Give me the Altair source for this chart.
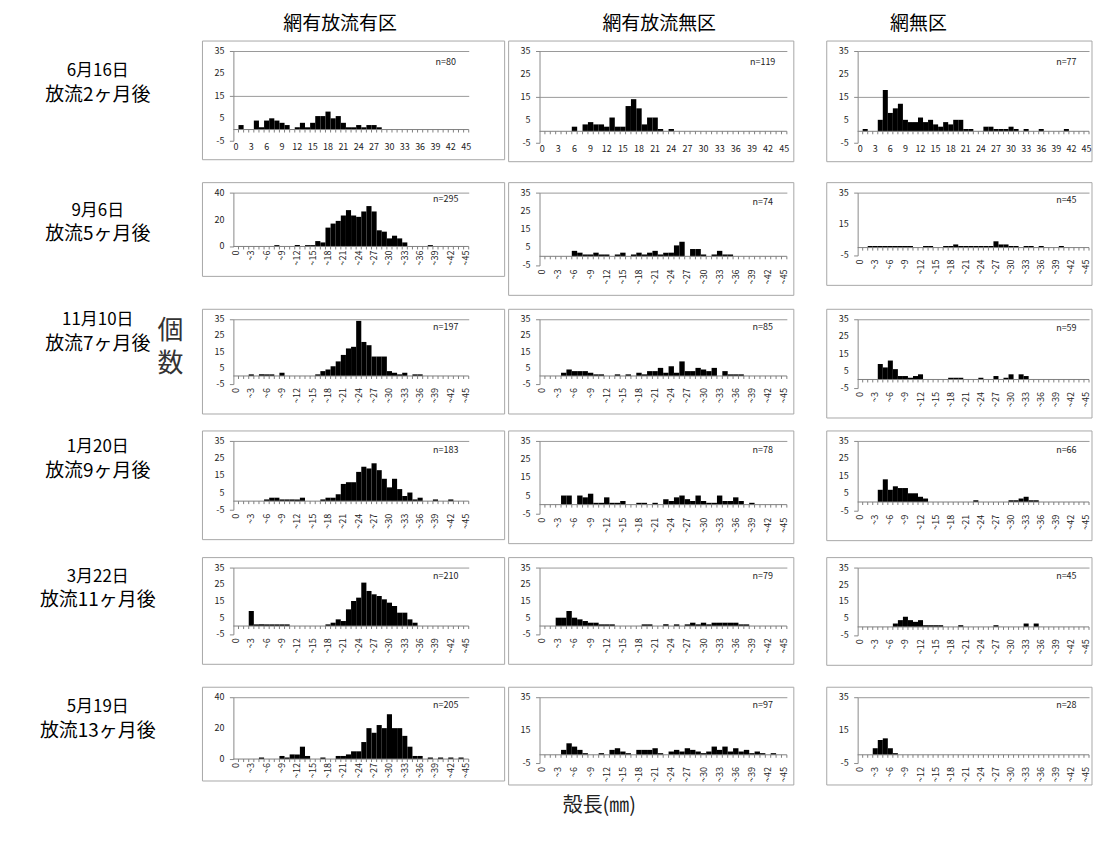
import altair as alt
import pandas as pd

FONT = "Noto Sans CJK JP"

# ---------------- data ----------------
categories = list(range(46))            # shell length classes 0..45 mm
tick_values = list(range(0, 46, 3))     # labelled classes

col_titles = ["網有放流有区", "網有放流無区", "網無区"]
row_dates = ["6月16日", "9月6日", "11月10日", "1月20日", "3月22日", "5月19日"]
row_after = ["放流2ヶ月後", "放流5ヶ月後", "放流7ヶ月後", "放流9ヶ月後", "放流11ヶ月後", "放流13ヶ月後"]
n_texts = [["n=80", "n=119", "n=77"],
           ["n=295", "n=74", "n=45"],
           ["n=197", "n=85", "n=59"],
           ["n=183", "n=78", "n=66"],
           ["n=210", "n=79", "n=45"],
           ["n=205", "n=97", "n=28"]]
y_title = ["個", "数"]
x_title = "殻長(㎜)"

# counts per size class {class: count}
r1c1 = {1: 2, 4: 4, 5: 1, 6: 4, 7: 5, 8: 4, 9: 3, 10: 2, 12: 1, 13: 3, 14: 1, 15: 3, 16: 6, 17: 6,
        18: 8, 19: 5, 20: 6, 21: 3, 22: 1, 23: 1, 24: 2, 25: 1, 26: 2, 27: 2, 28: 1}
r1c2 = {6: 2, 8: 3, 9: 4, 10: 3, 11: 3, 12: 2, 13: 6, 14: 2, 15: 2, 16: 11, 17: 14, 18: 10, 19: 3,
        20: 6, 21: 6, 22: 1, 24: 1}
r1c3 = {1: 1, 4: 5, 5: 18, 6: 8, 7: 10, 8: 12, 9: 5, 10: 4, 11: 4, 12: 6, 13: 4, 14: 5, 15: 3, 16: 2,
        17: 4, 18: 3, 19: 5, 20: 5, 21: 1, 22: 1, 25: 2, 26: 2, 27: 1, 28: 1, 29: 1, 30: 2, 31: 1,
        33: 1, 36: 1, 41: 1}

r2c1 = {8: 1, 12: 1, 14: 1, 15: 1, 16: 4, 17: 3, 18: 14, 19: 17, 20: 19, 21: 23, 22: 27, 23: 23,
        24: 22, 25: 26, 26: 30, 27: 26, 28: 12, 29: 11, 30: 6, 31: 8, 32: 6, 33: 3, 38: 1}
r2c2 = {6: 3, 7: 2, 8: 1, 9: 1, 10: 2, 11: 1, 12: 1, 14: 1, 15: 2, 17: 1, 18: 2, 19: 1, 20: 2,
        21: 3, 22: 1, 23: 2, 24: 2, 25: 6, 26: 8, 28: 4, 29: 4, 30: 1, 32: 1, 33: 3, 34: 1, 35: 1}
r2c3 = {2: 1, 3: 1, 4: 1, 5: 1, 6: 1, 7: 1, 8: 1, 9: 1, 10: 1, 13: 1, 14: 1, 17: 1, 18: 1, 19: 2,
        20: 1, 21: 1, 22: 1, 23: 1, 24: 1, 25: 1, 26: 1, 27: 4, 28: 2, 29: 2, 30: 1, 31: 1, 33: 1,
        34: 1, 36: 1, 40: 1}

r3c1 = {3: 1, 5: 1, 6: 1, 7: 1, 9: 2, 16: 1, 17: 3, 18: 4, 19: 6, 20: 9, 21: 13, 22: 17, 23: 18,
        24: 34, 25: 21, 26: 19, 27: 12, 28: 12, 29: 12, 30: 3, 31: 2, 32: 1, 33: 2, 35: 1, 36: 1}
r3c2 = {4: 2, 5: 4, 6: 3, 7: 3, 8: 3, 9: 2, 10: 1, 11: 1, 14: 1, 16: 1, 18: 2, 19: 1, 20: 3, 21: 3,
        22: 5, 23: 2, 24: 6, 25: 2, 26: 9, 27: 3, 28: 3, 29: 5, 30: 4, 31: 3, 32: 5, 34: 3, 35: 1,
        36: 1, 37: 1}
r3c3 = {4: 9, 5: 7, 6: 11, 7: 6, 8: 2, 9: 2, 10: 1, 11: 2, 12: 3, 18: 1, 19: 1, 20: 1, 24: 1,
        27: 2, 29: 1, 30: 3, 32: 3, 33: 2}

r4c1 = {6: 1, 7: 2, 8: 2, 9: 1, 10: 1, 11: 1, 12: 1, 13: 2, 17: 1, 18: 2, 19: 2, 20: 4, 21: 10,
        22: 11, 23: 11, 24: 17, 25: 20, 26: 19, 27: 22, 28: 18, 29: 13, 30: 8, 31: 13, 32: 7,
        33: 3, 34: 5, 35: 1, 36: 2, 39: 1, 42: 1}
r4c2 = {4: 5, 5: 5, 7: 5, 8: 4, 9: 6, 10: 1, 11: 1, 12: 4, 13: 1, 14: 1, 15: 2, 18: 1, 19: 1,
        21: 1, 23: 3, 24: 2, 25: 4, 26: 5, 27: 3, 28: 2, 29: 5, 30: 2, 31: 1, 32: 1, 33: 5, 34: 2,
        35: 2, 36: 4, 37: 2, 39: 1}
r4c3 = {4: 7, 5: 13, 6: 7, 7: 9, 8: 8, 9: 8, 10: 5, 11: 5, 12: 3, 13: 2, 23: 1, 30: 1, 31: 1,
        32: 2, 33: 3, 34: 1, 35: 1}

r5c1 = {3: 9, 4: 1, 5: 1, 6: 1, 7: 1, 8: 1, 9: 1, 10: 1, 18: 1, 19: 2, 20: 4, 21: 3, 22: 10,
        23: 15, 24: 17, 25: 26, 26: 21, 27: 19, 28: 18, 29: 16, 30: 14, 31: 12, 32: 8, 33: 8,
        34: 4, 35: 2}
r5c2 = {3: 5, 4: 5, 5: 9, 6: 5, 7: 4, 8: 3, 9: 2, 10: 2, 11: 1, 12: 1, 13: 1, 19: 1, 20: 1,
        23: 1, 25: 1, 27: 1, 28: 2, 29: 1, 30: 2, 31: 1, 32: 2, 33: 2, 34: 2, 35: 2, 36: 2, 37: 1,
        38: 1}
r5c3 = {7: 2, 8: 4, 9: 6, 10: 4, 11: 3, 12: 4, 13: 1, 14: 1, 15: 1, 16: 1, 20: 1, 27: 1, 33: 2,
        35: 2}

r6c1 = {5: 1, 9: 2, 10: 1, 11: 3, 12: 3, 13: 8, 14: 2, 17: 1, 20: 2, 21: 2, 22: 3, 23: 5, 24: 5,
        25: 11, 26: 20, 27: 17, 28: 22, 29: 20, 30: 29, 31: 20, 32: 20, 33: 15, 34: 8, 35: 2,
        36: 2, 38: 1, 40: 1, 42: 1, 44: 1}
r6c2 = {4: 3, 5: 7, 6: 5, 7: 3, 8: 1, 11: 1, 13: 3, 14: 4, 15: 2, 16: 1, 18: 3, 19: 3, 20: 3,
        21: 4, 22: 1, 24: 2, 25: 3, 26: 2, 27: 4, 28: 3, 29: 2, 30: 1, 31: 2, 32: 5, 33: 3, 34: 5,
        35: 2, 36: 4, 37: 2, 38: 3, 39: 1, 40: 2, 41: 1, 43: 1}
r6c3 = {3: 4, 4: 9, 5: 10, 6: 4, 7: 1}

counts = [[r1c1, r1c2, r1c3], [r2c1, r2c2, r2c3], [r3c1, r3c2, r3c3],
          [r4c1, r4c2, r4c3], [r5c1, r5c2, r5c3], [r6c1, r6c2, r6c3]]

# ---------------- layout ----------------
LABEL_W = 154
col_w = [236, 248, 232]
box_right = [36, 7, 3]
row_h = [[90, 92, 92], [54, 73, 63], [65, 65, 69], [69, 73, 70], [67, 67, 68], [62, 66, 66]]
row_mode = [["a", "a", "a"], ["b", "a", "c"], ["a", "a", "a"],
            ["a", "a", "a"], ["a", "a", "a"], ["b", "c", "c"]]
row_pitch = [142, 127, 122, 127, 130, 93]
label_dy = [(20, 44), (18, 42), (1, 25), (6, 30), (9, 33), (10, 34)]
title_x = [107, 120, 61]

one = pd.DataFrame({"z": [0]})
tick_df = pd.DataFrame({"t": tick_values})


def panel(cnt, ntext, W, H, mode, rotated, bx1, box_bottom):
    table = pd.DataFrame({"k": categories, "v": [cnt.get(c, 0) for c in categories]})
    if mode == "a":
        dom, yv, ny = [-5, 35], [-5, 5, 15, 25, 35], 30
    elif mode == "b":
        dom, yv, ny = [0, 40], [0, 20, 40], 35
    else:
        dom, yv, ny = [-5, 35], [-5, 15, 35], 30
    xs = alt.Scale(domain=[-0.5, 45.5], nice=False, zero=False)
    ys = alt.Scale(domain=dom, nice=False, zero=False)
    xaxis = alt.Axis(values=tick_values, domain=False, ticks=False, grid=False, labels=False,
                     title=None)
    yaxis = alt.Axis(values=yv, title=None, grid=True, gridColor="#9a9a9a", gridWidth=1,
                     gridOpacity={"condition": {"test": f"datum.value == {dom[0]}", "value": 0},
                                  "value": 1},
                     domainColor="#8a8a8a", tickColor="#8a8a8a", tickSize=4, labels=False)
    ytick_df = pd.DataFrame({"yv": yv})

    box = alt.Chart(one).mark_rect(fill="transparent", stroke="#a8a8a8", strokeWidth=1).encode(
        x=alt.value(-31), x2=alt.value(W + bx1), y=alt.value(-10), y2=alt.value(H + box_bottom))
    bars = alt.Chart(table).transform_filter("datum.v > 0").transform_calculate(
        lo="datum.k - 0.5", hi="datum.k + 0.5").mark_rect(color="black").encode(
        x=alt.X("lo:Q", scale=xs, axis=xaxis), x2="hi:Q",
        y=alt.Y("v:Q", scale=ys, axis=yaxis), y2=alt.datum(0))
    baseline = alt.Chart(one).mark_rule(color="#7f7f7f").encode(
        x=alt.datum(-0.5), x2=alt.datum(45.5), y=alt.datum(0))
    ticks = alt.Chart(table).transform_calculate(b="datum.k + 0.5").mark_rule(
        color="#7f7f7f", y2Offset=3).encode(
        x=alt.X("b:Q", axis=xaxis), y=alt.datum(0), y2=alt.datum(0))
    if rotated:
        xlab = alt.Chart(tick_df).transform_calculate(
            lab="datum.t == 0 ? '0' : '~' + datum.t").mark_text(
            font=FONT, fontSize=9, color="#222", angle=270, align="right", baseline="middle").encode(
            x=alt.X("t:Q", axis=xaxis), y=alt.value(H + 4), text="lab:N")
    else:
        xlab = alt.Chart(tick_df).transform_calculate(lab="'' + datum.t").mark_text(
            font=FONT, fontSize=9, color="#222", align="center", baseline="top").encode(
            x=alt.X("t:Q", axis=xaxis), y=alt.value(H + 2), text="lab:N")
    ylab = alt.Chart(ytick_df).transform_calculate(lab="'' + datum.yv").mark_text(
        font=FONT, fontSize=9, color="#222", align="right", baseline="middle").encode(
        x=alt.value(-9), y=alt.Y("yv:Q", axis=yaxis), text="lab:N")
    ntxt = alt.Chart(one).mark_text(font=FONT, fontSize=9, color="#222").encode(
        x=alt.datum(41), y=alt.datum(ny), text=alt.value(ntext))
    return alt.layer(box, bars, baseline, ticks, xlab, ylab, ntxt).properties(width=W, height=H)


def text_cell(w, h, items, color="black"):
    layers = [alt.Chart(one).mark_text(font=FONT, fontSize=s, color=color).encode(
        x=alt.value(x), y=alt.value(y), text=alt.value(t)) for (x, y, t, s) in items]
    if not layers:
        layers = [alt.Chart(one).mark_text(fontSize=1).encode(
            x=alt.value(w / 2), y=alt.value(h / 2), text=alt.value(" "))]
    return alt.layer(*layers).properties(width=w, height=h)


cells = []
# title row
cells.append(text_cell(LABEL_W, 41, []))
for j in range(3):
    cells.append(text_cell(col_w[j], 41, [(title_x[j], 14, col_titles[j], 19)]))

for i in range(6):
    d1, d2 = label_dy[i]
    items = [(89, d1, row_dates[i], 17), (89, d2, row_after[i], 19)]
    cells.append(text_cell(LABEL_W, row_pitch[i], items))
    if i == 2:
        cells[-1] = alt.layer(
            cells[-1],
            alt.Chart(one).mark_text(font=FONT, fontSize=26, color="#333", baseline="top",
                                     lineHeight=33).encode(
                x=alt.value(162), y=alt.value(-1), text=alt.value(y_title)),
        )
    for j in range(3):
        bb = 19 if i == 0 else (22 if i == 5 else 30)
        cells.append(panel(counts[i][j], n_texts[i][j], col_w[j], row_h[i][j],
                           row_mode[i][j], i > 0, box_right[j], bb))

# bottom row (x title)
cells.append(text_cell(LABEL_W, 30, []))
cells.append(text_cell(col_w[0], 30, []))
cells.append(text_cell(col_w[1], 30, [(60, 16, x_title, 20)], color="#222"))
cells.append(text_cell(col_w[2], 30, []))

chart = alt.concat(*cells, columns=4, spacing={"row": 0, "column": 71},
                   bounds="flush").properties(padding=0).configure_view(stroke="transparent")

chart.save("out.html", embed_options={"renderer": "svg", "actions": False})
